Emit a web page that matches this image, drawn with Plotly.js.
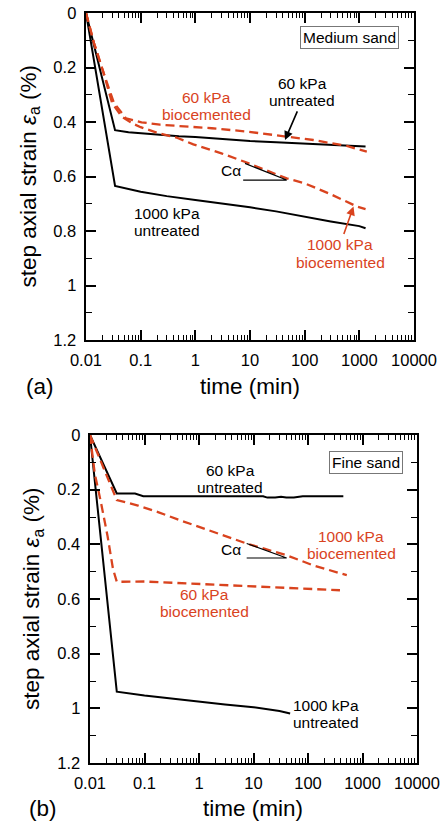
<!DOCTYPE html>
<html>
<head>
<meta charset="utf-8">
<script src="https://cdn.plot.ly/plotly-3.0.1.min.js"></script>
<style>html,body{margin:0;padding:0;background:#fff;}#chart{width:443px;height:824px;}</style>
</head>
<body>
<div id="chart"></div>
<script>
// ---------- Data: (a) Medium sand ----------
var tA_60u = [0.01, 0.034, 0.06, 0.1, 0.2, 0.5, 1, 3, 10, 30, 100, 300, 1000, 1300];
var eA_60u = [0, 0.43, 0.438, 0.442, 0.447, 0.452, 0.455, 0.462, 0.47, 0.474, 0.479, 0.484, 0.488, 0.49];
var tA_1000u = [0.01, 0.034, 0.1, 0.3, 1, 3, 10, 30, 100, 300, 1000, 1300];
var eA_1000u = [0, 0.635, 0.656, 0.672, 0.686, 0.698, 0.713, 0.728, 0.748, 0.765, 0.782, 0.79];
var tA_60b = [0.01, 0.014, 0.021, 0.0325, 0.054, 0.104, 0.225, 0.56, 2, 8.7, 35, 144, 590, 1370];
var eA_60b = [0, 0.11, 0.22, 0.33, 0.387, 0.401, 0.41, 0.415, 0.423, 0.435, 0.451, 0.466, 0.488, 0.509];
var tA_1000b = [0.01, 0.014, 0.021, 0.03, 0.045, 0.07, 0.1, 0.22, 0.45, 0.92, 3, 8, 47, 100, 300, 900, 1300];
var eA_1000b = [0, 0.11, 0.22, 0.33, 0.38, 0.405, 0.419, 0.442, 0.457, 0.482, 0.515, 0.546, 0.607, 0.625, 0.665, 0.71, 0.72];
var tA_ca = [7.5, 46.9, 8.1];
var eA_ca = [0.613, 0.613, 0.552];

// ---------- Data: (b) Fine sand ----------
var tB_60u = [0.01, 0.031, 0.067, 0.095, 1, 15, 18, 25, 32, 40, 55, 70, 80, 445];
var eB_60u = [0, 0.214, 0.214, 0.224, 0.224, 0.224, 0.229, 0.229, 0.226, 0.229, 0.229, 0.227, 0.224, 0.224];
var tB_1000u = [0.01, 0.031, 0.1, 0.3, 1, 3, 10, 30, 47];
var eB_1000u = [0, 0.939, 0.953, 0.964, 0.977, 0.986, 0.996, 1.01, 1.019];
var tB_60b = [0.01, 0.0122, 0.016, 0.021, 0.0264, 0.031, 0.1, 0.3, 1, 3, 17.5, 100, 386];
var eB_60b = [0, 0.14, 0.25, 0.37, 0.49, 0.537, 0.536, 0.54, 0.544, 0.55, 0.556, 0.563, 0.568];
var tB_1000b = [0.01, 0.031, 0.076, 0.177, 0.45, 1.83, 7.5, 40.6, 125, 515];
var eB_1000b = [0, 0.238, 0.258, 0.282, 0.312, 0.355, 0.397, 0.44, 0.477, 0.513];
var tB_ca = [7.5, 40.6, 7.5];
var eB_ca = [0.45, 0.45, 0.397];

var xTickVals = [0.01, 0.1, 1, 10, 100, 1000, 10000];
var xTickText = ['0.01', '0.1', '1', '10', '100', '1000', '10000'];

var RED = '#d9431e';
var FONT = 'Liberation Sans, Arial, Helvetica, sans-serif';
var W = 443, H = 824;

function blk(x, y, xa, ya) {
  return {x: x, y: y, xaxis: xa, yaxis: ya, mode: 'lines', line: {color: '#000', width: 2}, hoverinfo: 'skip'};
}
function red(x, y, xa, ya) {
  return {x: x, y: y, xaxis: xa, yaxis: ya, mode: 'lines', line: {color: RED, width: 2.3, dash: '9px,5px'}, hoverinfo: 'skip'};
}
function thin(x, y, xa, ya) {
  return {x: x, y: y, xaxis: xa, yaxis: ya, mode: 'lines', line: {color: '#000', width: 1.2}, hoverinfo: 'skip'};
}

var traces = [
  blk(tA_60u, eA_60u, 'x', 'y'),
  blk(tA_1000u, eA_1000u, 'x', 'y'),
  red(tA_60b, eA_60b, 'x', 'y'),
  red(tA_1000b, eA_1000b, 'x', 'y'),
  thin(tA_ca, eA_ca, 'x', 'y'),
  blk(tB_60u, eB_60u, 'x2', 'y2'),
  blk(tB_1000u, eB_1000u, 'x2', 'y2'),
  red(tB_60b, eB_60b, 'x2', 'y2'),
  red(tB_1000b, eB_1000b, 'x2', 'y2'),
  thin(tB_ca, eB_ca, 'x2', 'y2')
];

function xAx(d, anchor) {
  return {
    type: 'log', range: [-2, 4], domain: d, anchor: anchor,
    tickmode: 'array', tickvals: xTickVals, ticktext: xTickText,
    ticks: 'inside', ticklen: 10, tickwidth: 1.6, tickcolor: '#000',
    minor: {ticks: 'inside', ticklen: 5, tickwidth: 1.3, tickcolor: '#000', dtick: 'D1', showgrid: false},
    showline: true, linecolor: '#000', linewidth: 1.6, mirror: 'allticks',
    showgrid: false, zeroline: false, ticklabelstandoff: 4,
    tickfont: {family: FONT, size: 16.5, color: '#000'}
  };
}
function yAx(d, anchor) {
  return {
    range: [1.2, 0], domain: d, anchor: anchor,
    tick0: 0, dtick: 0.2, ticksuffix: ' ',
    ticks: 'inside', ticklen: 10, tickwidth: 1.6, tickcolor: '#000',
    minor: {ticks: 'inside', ticklen: 6, tickwidth: 1.3, tickcolor: '#000', tick0: 0, dtick: 0.1, showgrid: false},
    showline: true, linecolor: '#000', linewidth: 1.6, mirror: 'allticks',
    showgrid: false, zeroline: false,
    tickfont: {family: FONT, size: 16.5, color: '#000'}
  };
}

function txt(text, px, py, color, size, extra) {
  var a = {text: text, xref: 'paper', yref: 'paper', x: px / W, y: 1 - py / H,
    xanchor: 'center', yanchor: 'middle', showarrow: false,
    font: {family: FONT, size: size || 15.5, color: color || '#000'}};
  if (extra) for (var k in extra) a[k] = extra[k];
  return a;
}
// label with an arrow: text centred at (px,py), arrow head at (hx,hy)
function arrowTxt(text, px, py, hx, hy, color) {
  return {text: text, xref: 'paper', yref: 'paper', x: hx / W, y: 1 - hy / H,
    ax: px - hx, ay: py - hy, showarrow: true, arrowhead: 2, arrowsize: 1.1,
    arrowwidth: 1.6, arrowcolor: color, standoff: 0, startstandoff: 1,
    font: {family: FONT, size: 15.5, color: color}};
}

var annotations = [
  // (a)
  txt('Medium sand', 349, 38, '#000', 15.5, {bordercolor: '#777', borderwidth: 1, borderpad: 2}),
  txt('60 kPa', 302, 83.5),
  arrowTxt('untreated', 302, 100.5, 285, 140, '#000'),
  txt('60 kPa', 206, 97, RED), txt('biocemented', 206, 114, RED),
  txt('1000 kPa', 167, 213.5), txt('untreated', 167, 230.5),
  arrowTxt('1000 kPa', 340, 245, 353.5, 206.5, RED),
  txt('biocemented', 340, 262, RED),
  txt('Cα', 231, 171),
  txt('step axial strain <i>ε</i><sub>a</sub> (%)', 29, 176.5, '#000', 22.5, {textangle: -90}),
  txt('time (min)', 250, 386, '#000', 22.5),
  txt('(a)', 40, 386, '#000', 22.5),
  // (b)
  txt('Fine sand', 366, 462.5, '#000', 15.5, {bordercolor: '#777', borderwidth: 1, borderpad: 2}),
  txt('60 kPa', 230, 470), txt('untreated', 230, 487),
  txt('1000 kPa', 351, 536, RED), txt('biocemented', 351, 553, RED),
  txt('60 kPa', 204, 594, RED), txt('biocemented', 204, 611, RED),
  txt('1000 kPa', 326, 705), txt('untreated', 326, 722),
  txt('Cα', 231, 549),
  txt('step axial strain <i>ε</i><sub>a</sub> (%)', 33, 599, '#000', 22.5, {textangle: -90}),
  txt('time (min)', 253, 808, '#000', 22.5),
  txt('(b)', 43, 808, '#000', 22.5)
];

var layout = {
  width: W, height: H,
  margin: {l: 0, r: 0, t: 0, b: 0},
  paper_bgcolor: '#fff', plot_bgcolor: '#fff',
  showlegend: false,
  font: {family: FONT, color: '#000'},
  xaxis: xAx([86 / W, 414 / W], 'y'),
  yaxis: yAx([1 - 340 / H, 1 - 13 / H], 'x'),
  xaxis2: xAx([90 / W, 417 / W], 'y2'),
  yaxis2: yAx([1 - 763 / H, 1 - 435 / H], 'x2'),
  annotations: annotations
};

Plotly.newPlot('chart', traces, layout, {displayModeBar: false});
</script>
</body>
</html>
